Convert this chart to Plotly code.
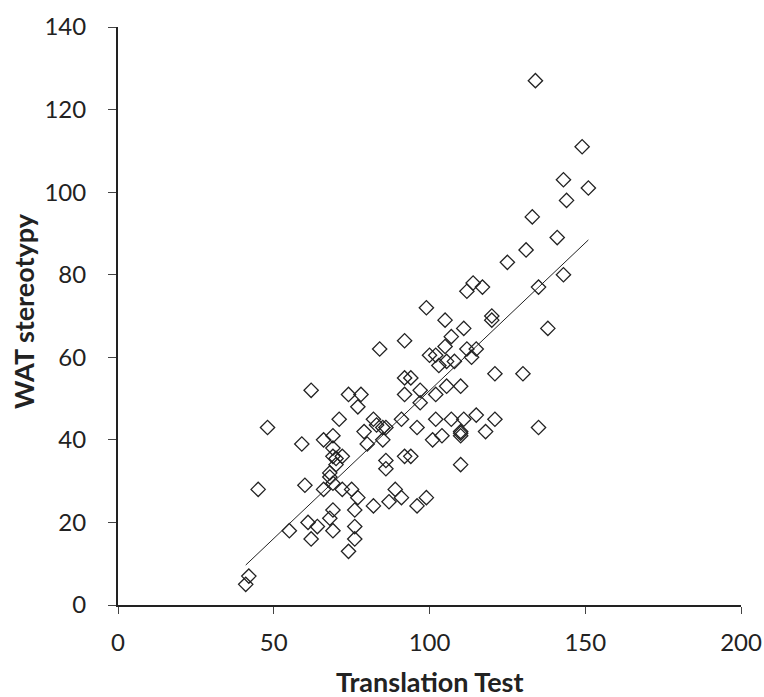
import numpy as np
import plotly.graph_objects as go

translation_test = [
    92, 84, 62, 74, 78, 92, 94, 92, 97, 97, 77, 71, 48, 91, 96, 59, 66, 69, 69, 69,
    70, 72, 70, 79, 82, 83, 85, 86, 80, 85, 86, 86, 92, 94, 68, 68, 69, 45, 60, 66,
    72, 75, 77, 76, 82, 87, 89, 91, 96, 99, 69, 68, 61, 64, 69, 55, 62, 76, 76, 74,
    42, 41,
    133, 141, 131, 125, 143, 135, 114, 112, 117, 99, 120, 120, 105, 138, 111, 107,
    105, 112, 115, 100, 102, 103, 105.5, 108, 113.5, 105.5, 110, 102, 121, 130,
    102, 107, 111, 115, 121, 118, 135, 104, 101, 110, 110, 110, 110,
    134, 149, 143, 151, 144,
]
wat_stereotypy = [
    64, 62, 52, 51, 51, 55, 55, 51, 52, 49, 48, 45, 43, 45, 43, 39, 40, 41, 38, 36,
    35.5, 36, 34, 42, 45, 43.6, 43, 43, 39, 40, 35, 33, 36, 36, 32, 31, 29.5, 28, 29, 28,
    28, 28, 26, 23, 24, 25, 28, 26, 24, 26, 23, 21, 20, 19, 18, 18, 16, 19, 16, 13,
    7, 5,
    94, 89, 86, 83, 80, 77, 78, 76, 77, 72, 70, 69, 69, 67, 67, 65,
    62.6, 62, 62, 60.5, 60.5, 58, 59, 59, 60, 53, 53, 51, 56, 56,
    45, 45, 45, 46, 45, 42, 43, 41, 40, 41.6, 42, 41, 34,
    127, 111, 103, 101, 98,
]

x_ticks = [0, 50, 100, 150, 200]
y_ticks = [0, 20, 40, 60, 80, 100, 120, 140]
x_title = "Translation Test"
y_title = "WAT stereotypy"

x_arr = np.array(translation_test, dtype=float)
y_arr = np.array(wat_stereotypy, dtype=float)
slope, intercept = np.polyfit(x_arr, y_arr, 1)
fit_x = np.array([x_arr.min(), x_arr.max()])
fit_y = slope * fit_x + intercept

fig = go.Figure()
fig.add_trace(go.Scatter(
    x=translation_test, y=wat_stereotypy, mode="markers",
    marker=dict(symbol="diamond-open", size=11, color="#222222",
                line=dict(width=1.3, color="#222222")),
    showlegend=False, hoverinfo="skip", cliponaxis=False,
))
fig.add_trace(go.Scatter(
    x=fit_x, y=fit_y, mode="lines",
    line=dict(color="#222222", width=1), showlegend=False, hoverinfo="skip",
))

tick_font = dict(family="Lato", size=24, color="#222222")
title_font = dict(family="Lato", size=27, color="#222222", weight="bold")

fig.update_layout(
    width=764, height=697,
    margin=dict(l=118, r=23, t=27, b=92),
    paper_bgcolor="white", plot_bgcolor="white",
    xaxis=dict(
        range=[0, 200], tickvals=x_ticks, ticktext=[str(v) for v in x_ticks],
        showgrid=False, zeroline=False, showline=True, linecolor="#222222", linewidth=2,
        ticks="outside", ticklen=7, tickwidth=1, tickcolor="#444444",
        tickfont=tick_font, automargin=False, ticklabelstandoff=8,
    ),
    yaxis=dict(
        range=[0, 140], tickvals=y_ticks, ticktext=[str(v) for v in y_ticks],
        showgrid=False, zeroline=False, showline=True, linecolor="#222222", linewidth=2,
        ticks="outside", ticklen=8, tickwidth=1, tickcolor="#444444",
        tickfont=tick_font, automargin=False, ticklabelstandoff=17,
    ),
    annotations=[
        dict(text=x_title, xref="paper", yref="paper", x=0.5, y=0,
             xanchor="center", yanchor="middle", yshift=-76, showarrow=False,
             font=title_font),
        dict(text=y_title, xref="paper", yref="paper", x=0, y=0.5,
             xanchor="center", yanchor="middle", xshift=-95, yshift=5,
             textangle=-90, showarrow=False, font=title_font),
    ],
)

fig.write_html(
    "out.html",
    config={"displayModeBar": False, "staticPlot": True},
    post_script="document.documentElement.style.margin='0';"
                "document.body.style.margin='0';"
                "document.body.style.overflow='hidden';",
)
